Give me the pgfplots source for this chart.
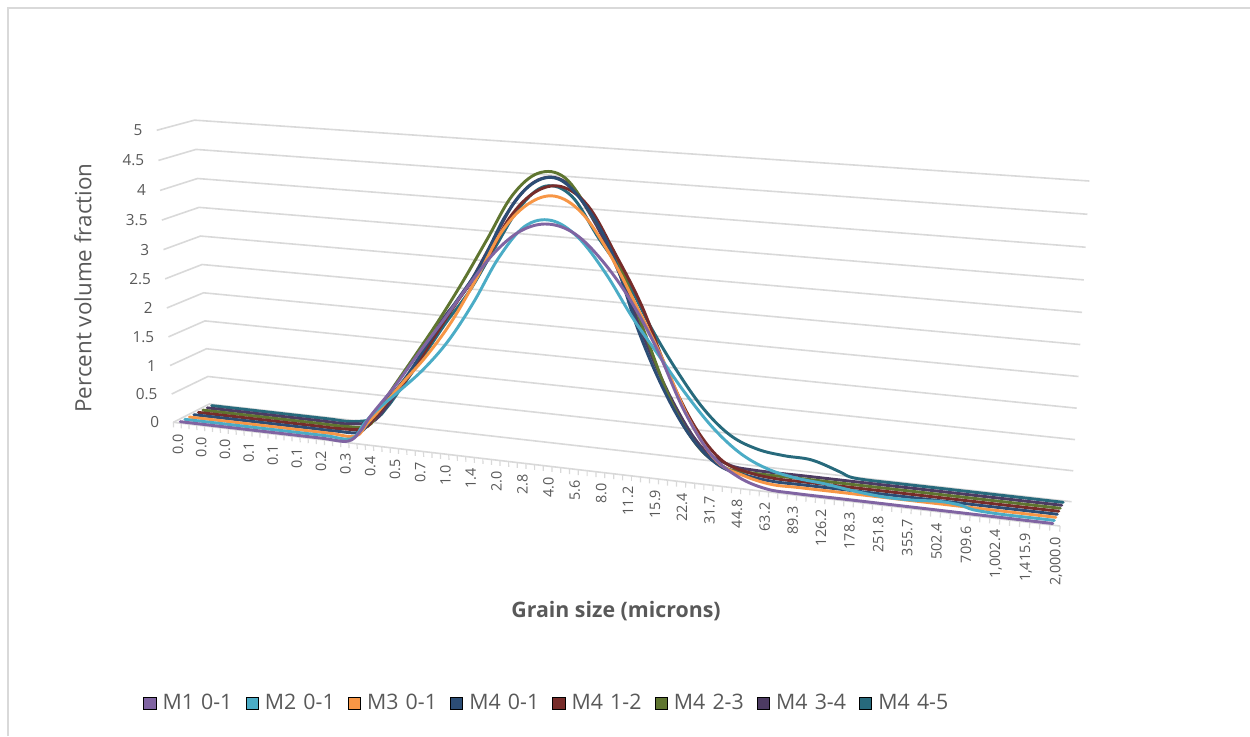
\documentclass[border=0pt]{standalone}
\usepackage{fontspec}
\setmainfont{Open Sans}
\usepackage{pgfplots}
\usepackage{pgfplotstable}
\pgfplotsset{compat=1.18}
\definecolor{gridc}{HTML}{D9D9D9}
\definecolor{txtc}{HTML}{595959}
\definecolor{cA}{HTML}{8064A2}
\definecolor{cB}{HTML}{4BACC6}
\definecolor{cC}{HTML}{F79646}
\definecolor{cD}{HTML}{2C4D75}
\definecolor{cE}{HTML}{772C2A}
\definecolor{cF}{HTML}{5F7530}
\definecolor{cG}{HTML}{4D3B62}
\definecolor{cH}{HTML}{276A7C}
% oblique projection of (category k, series depth d, value v) on to the page
\def\II#1{(0.006+0.03*(#1))}
\def\WW#1#2#3{(1-0.125*\II{#1}+0.03*(#2)-0.035*(#3)/5)}
\def\PX#1#2#3{(173.3+(775.9*\II{#1}+37.1*(#2)-16*(#3)/5)/\WW{#1}{#2}{#3})}
\def\PY#1#2#3{(422.3+(90.74*\II{#1}-18.85*(#2)-281.8*(#3)/5)/\WW{#1}{#2}{#3})}
\pgfplotstableread{
k v
0 0
3 0
5 0
6 0
7 0
7.5 .18
8 .5
9 1.05
10 1.66
11 2.25
12 2.86
13 3.42
14 3.8
15 3.94
16 3.82
17 3.43
18 2.86
19 2.1
20 1.15
21 .48
22 .16
23 .02
24 0
26 0
29 0
32.87 0
}\tA
\pgfplotstableread{
k v
0 0
3 0
5 0
6 0
7 0
7.5 .27
8 .52
9 .92
10 1.34
11 1.86
12 2.53
13 3.3
14 3.84
15 3.97
16 3.73
17 3.2
18 2.52
19 1.93
20 1.35
21 .85
22 .49
23 .29
24 .2
25 .16
26 .1
27 .06
28 .06
29 .09
29.7 .07
30.14 .02
31 0
32 0
32.87 0
}\tB
\pgfplotstableread{
k v
0 0
3 0
5 0
6 0
7 0
7.5 .25
8 .5
9 1.03
10 1.54
11 2.15
12 2.9
13 3.7
14 4.17
15 4.33
16 4.1
17 3.5
18 2.7
19 1.85
20 .9
21 .28
22 .09
23 0
24 0
26 0
29 0
32.87 0
}\tC
\pgfplotstableread{
k v
0 0
3 0
5 0
6 0
7 .03
7.5 .28
8 .55
9 1.1
10 1.78
11 2.42
12 3.07
13 3.92
14 4.46
15 4.58
16 4.2
17 3.46
18 2.22
19 1.25
20 .55
21 .16
22 .05
23 0
24 0
26 0
29 0
32.87 0
}\tD
\pgfplotstableread{
k v
0 0
3 0
5 0
6 0
7 .05
7.5 .28
8 .55
9 1.1
10 1.78
11 2.45
12 3.06
13 3.85
14 4.31
15 4.43
16 4.15
17 3.42
18 2.6
19 1.53
20 .7
21 .2
22 .05
23 0
24 0
26 0
29 0
32.87 0
}\tE
\pgfplotstableread{
k v
0 0
3 0
5 0
6 0
7 .05
7.5 .35
8 .71
9 1.35
10 2.0
11 2.7
12 3.45
13 4.2
14 4.59
15 4.55
16 3.98
17 3.26
18 2.12
19 1.03
20 .34
21 .04
22 0
24 0
26 0
29 0
32.87 0
}\tF
\pgfplotstableread{
k v
0 0
3 0
5 0
6 0
7 .08
7.5 .3
8 .6
9 1.25
10 1.98
11 2.56
12 3.33
13 4.1
14 4.48
15 4.42
16 3.83
17 2.95
18 1.85
19 .95
20 .3
21 .05
22 0
24 0
26 0
29 0
32.87 0
}\tG
\pgfplotstableread{
k v
0 0
3 0
5 0
6 0
7 .1
7.5 .32
8 .62
9 1.25
10 1.9
11 2.5
12 3.24
13 3.95
14 4.33
15 4.2
16 3.56
17 2.95
18 2.15
19 1.46
20 .88
21 .49
22 .31
23 .25
24 .23
25 .09
25.4 .02
26 0
27 0
29 0
32.87 0
}\tH
\begin{document}
\begin{tikzpicture}[x=1pt,y=1pt]
\path[use as bounding box] (0,0) rectangle (937.5,552);
\begin{axis}[
  at={(0,0)}, anchor=south west,
  scale only axis, width=937.5pt, height=552pt,
  xmin=0, xmax=1250, ymin=0, ymax=736, y dir=reverse,
  axis lines=none, clip=false,
  legend columns=8,
  legend image code/.code={\fill[#1] (0pt,-4.6pt) rectangle (9.2pt,4.6pt); \path (11.5pt,0pt);},
  legend style={at={(axis cs:139,703)}, anchor=west, draw=none, fill=none,
    font=\fontsize{16}{18}\selectfont\color{txtc},
    nodes={inner xsep=2.6pt, inner ysep=1.2pt, text width=59.6pt, align=left},
    /tikz/every even column/.append style={column sep=0pt}},
]
\addlegendimage{fill=cA}\addlegendentry{M1 0-1}
\addlegendimage{fill=cB}\addlegendentry{M2 0-1}
\addlegendimage{fill=cC}\addlegendentry{M3 0-1}
\addlegendimage{fill=cD}\addlegendentry{M4 0-1}
\addlegendimage{fill=cE}\addlegendentry{M4 1-2}
\addlegendimage{fill=cF}\addlegendentry{M4 2-3}
\addlegendimage{fill=cG}\addlegendentry{M4 3-4}
\addlegendimage{fill=cH}\addlegendentry{M4 4-5}
% chart frame
\addplot[gridc, line width=0.9pt, forget plot] coordinates {(8,736) (8,8) (1250,8)};
% gridlines on the side and back walls
\pgfplotsinvokeforeach{0,0.5,1,1.5,2,2.5,3,3.5,4,4.5,5}{
  \addplot[gridc, line width=1.2pt, forget plot] table[row sep=\\,
     x expr={\PX{\thisrow{k}}{\thisrow{d}}{#1}},
     y expr={\PY{\thisrow{k}}{\thisrow{d}}{#1}}]
     {k d\\ -0.2 0\\ -0.2 1\\ 33.13 1\\};
  \node[anchor=east, inner sep=0pt, font=\fontsize{11.5}{13}\selectfont, text=txtc]
     at (axis cs:{\PX{-0.2}{0}{#1}-14},{\PY{-0.2}{0}{#1}}) {#1};
}
% front edge of the floor
\addplot[gridc, line width=1.2pt, forget plot] table[row sep=\\,
     x expr={\PX{\thisrow{k}}{\thisrow{d}}{0}},
     y expr={\PY{\thisrow{k}}{\thisrow{d}}{0}}]
     {k d\\ -0.2 0\\ 33.13 0\\};
% tick marks
\pgfplotsinvokeforeach{0,...,100}{
  \addplot[gridc, line width=0.9pt, forget plot] table[row sep=\\,
     x expr={\PX{(#1/3-0.2)}{0}{\thisrow{v}}},
     y expr={\PY{(#1/3-0.2)}{0}{\thisrow{v}}}]
     {v\\ 0\\ -0.09\\};
}
% category labels
\foreach \n/\lab in {0/0.0,1/0.0,2/0.0,3/0.1,4/0.1,5/0.1,6/0.2,7/0.3,8/0.4,9/0.5,10/0.7,11/1.0,12/1.4,13/2.0,14/2.8,15/4.0,16/5.6,17/8.0,18/11.2,19/15.9,20/22.4,21/31.7,22/44.8,23/63.2,24/89.3,25/126.2,26/178.3,27/251.8,28/355.7,29/502.4,30/709.6,31/{1,002.4},32/{1,415.9},33/{2,000.0}}{
  \edef\temp{\noexpand\node[rotate=90, anchor=east, inner sep=0pt, font=\noexpand\fontsize{10.8}{12}\noexpand\selectfont, text=txtc]
     at (axis cs:{\PX{\n}{0}{0}},{\PY{\n}{0}{0}+11}) {\lab};}
  \temp
}
% series, back to front
\addplot[cH, line width=2.2pt, smooth, tension=0.6, line cap=round, line join=round, forget plot] table[x expr={\PX{\thisrow{k}}{0.9375}{\thisrow{v}}}, y expr={\PY{\thisrow{k}}{0.9375}{\thisrow{v}}}] {\tH};
\addplot[cG, line width=2.2pt, smooth, tension=0.6, line cap=round, line join=round, forget plot] table[x expr={\PX{\thisrow{k}}{0.8125}{\thisrow{v}}}, y expr={\PY{\thisrow{k}}{0.8125}{\thisrow{v}}}] {\tG};
\addplot[cF, line width=2.2pt, smooth, tension=0.6, line cap=round, line join=round, forget plot] table[x expr={\PX{\thisrow{k}}{0.6875}{\thisrow{v}}}, y expr={\PY{\thisrow{k}}{0.6875}{\thisrow{v}}}] {\tF};
\addplot[cE, line width=2.2pt, smooth, tension=0.6, line cap=round, line join=round, forget plot] table[x expr={\PX{\thisrow{k}}{0.5625}{\thisrow{v}}}, y expr={\PY{\thisrow{k}}{0.5625}{\thisrow{v}}}] {\tE};
\addplot[cD, line width=2.2pt, smooth, tension=0.6, line cap=round, line join=round, forget plot] table[x expr={\PX{\thisrow{k}}{0.4375}{\thisrow{v}}}, y expr={\PY{\thisrow{k}}{0.4375}{\thisrow{v}}}] {\tD};
\addplot[cC, line width=2.2pt, smooth, tension=0.6, line cap=round, line join=round, forget plot] table[x expr={\PX{\thisrow{k}}{0.3125}{\thisrow{v}}}, y expr={\PY{\thisrow{k}}{0.3125}{\thisrow{v}}}] {\tC};
\addplot[cB, line width=2.2pt, smooth, tension=0.6, line cap=round, line join=round, forget plot] table[x expr={\PX{\thisrow{k}}{0.1875}{\thisrow{v}}}, y expr={\PY{\thisrow{k}}{0.1875}{\thisrow{v}}}] {\tB};
\addplot[cA, line width=2.2pt, smooth, tension=0.6, line cap=round, line join=round, forget plot] table[x expr={\PX{\thisrow{k}}{0.0625}{\thisrow{v}}}, y expr={\PY{\thisrow{k}}{0.0625}{\thisrow{v}}}] {\tA};
% titles
\node[rotate=90, font=\fontsize{16.8}{20}\selectfont, text=txtc] at (axis cs:83,288) {Percent volume fraction};
\node[font=\fontsize{16}{19}\selectfont\bfseries, text=txtc] at (axis cs:616,611) {Grain size (microns)};
\end{axis}
\end{tikzpicture}
\end{document}
